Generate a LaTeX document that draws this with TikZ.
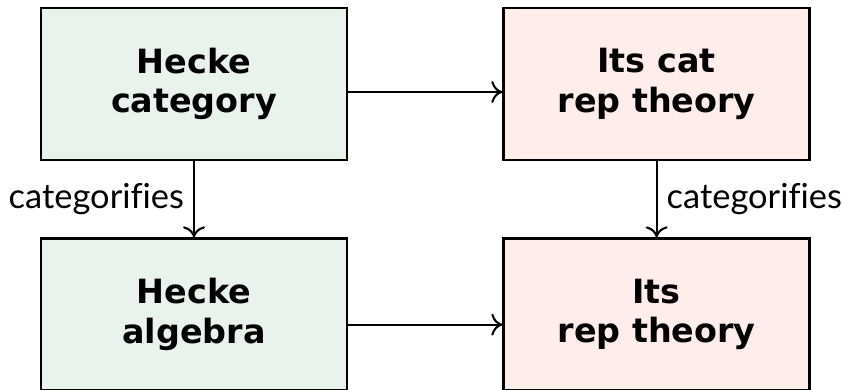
\documentclass[tikz,border=0pt]{standalone}
\usepackage{fontspec}
\newfontfamily\boxfont{DejaVu Sans}
\newfontfamily\lblfont[Ligatures=NoCommon]{Lato}
\usepackage{tikz}
\usetikzlibrary{arrows.meta, positioning}

\definecolor{heckefill}{RGB}{234,242,238}
\definecolor{repfill}{RGB}{255,237,235}

\begin{document}
\begin{tikzpicture}[
    node distance=1.52cm and 3.08cm,
    heckebox/.style={rectangle, draw, line width=1.5pt, fill=heckefill, minimum width=6.12cm, minimum height=3.04cm, align=center, font=\boxfont\bfseries\fontsize{19}{22.5}\selectfont},
    repbox/.style={heckebox, fill=repfill},
    arrow/.style={-{To[length=2.2mm, width=4.4mm]}, line width=1.2pt},
    lbl/.style={font=\lblfont\fontsize{19.6}{24}\selectfont, inner sep=0.18cm},
]
\useasboundingbox (-3.88,1.68) rectangle (12.96,-6.12);

% Nodes
\node[heckebox] (hcat) {Hecke\\category};
\node[repbox, right=of hcat] (catrep) {Its cat\\rep theory};
\node[heckebox, below=of hcat] (halg) {Hecke\\algebra};
\node[repbox, below=of catrep] (rep) {Its\\rep theory};

% Arrows
\draw[arrow] ([yshift=-0.16cm]hcat.east) -- ([yshift=-0.16cm]catrep.west);
\draw[arrow] ([yshift=-0.2cm]halg.east) -- ([yshift=-0.2cm]rep.west);
\draw[arrow] (hcat) -- node[left, lbl] {categorifies} (halg);
\draw[arrow] (catrep) -- node[right, lbl] {categorifies} (rep);

\end{tikzpicture}
\end{document}
